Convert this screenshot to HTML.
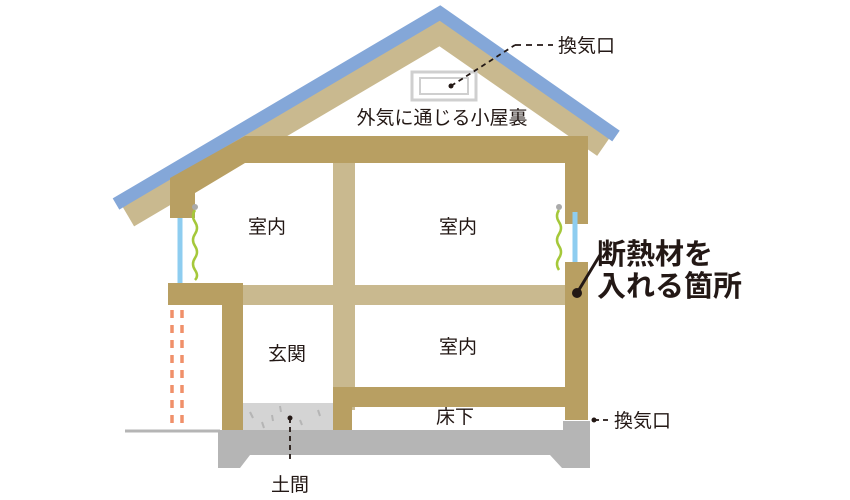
<!DOCTYPE html>
<html><head><meta charset="utf-8"><style>
html,body{margin:0;padding:0;background:#fff;}
svg{display:block;}
text{font-family:"Liberation Sans","Noto Sans CJK JP",sans-serif;fill:#231815;}
</style></head><body>
<svg width="850" height="500" viewBox="0 0 850 500">
<!-- roof tan band -->
<polyline points="128,216 440,32 604,146" fill="none" stroke="#c9b98f" stroke-width="24" stroke-linejoin="miter"/>
<!-- roof blue -->
<polyline points="116,204 440,13 616,136" fill="none" stroke="#84a7d8" stroke-width="13" stroke-linejoin="miter"/>
<!-- vent box -->
<rect x="412" y="72" width="64" height="28" fill="none" stroke="#cfcfcf" stroke-width="3"/>
<rect x="420" y="78" width="48" height="16" fill="none" stroke="#cfcfcf" stroke-width="2"/>
<line x1="451" y1="86" x2="515" y2="45" stroke="#231815" stroke-width="1.8" stroke-dasharray="5,4"/>
<line x1="515" y1="45" x2="553" y2="45" stroke="#231815" stroke-width="1.8" stroke-dasharray="6,5"/>
<circle cx="451" cy="86" r="2.5" fill="#231815"/>
<rect x="333" y="160" width="22" height="250" fill="#c9b98f"/>
<rect x="240" y="285" width="328" height="20" fill="#c9b98f"/>
<polygon points="170,178 245,136 587,136 587,163 245,163 195,193 170,193" fill="#b89f62"/>
<rect x="170" y="178" width="25" height="40" fill="#b89f62"/>
<rect x="565" y="136" width="23" height="88" fill="#b89f62"/>
<rect x="168" y="283" width="75" height="22" fill="#b89f62"/>
<rect x="222" y="283" width="21" height="148" fill="#b89f62"/>
<rect x="565" y="262" width="23" height="158" fill="#b89f62"/>
<rect x="333" y="387" width="232" height="20" fill="#b89f62"/>
<rect x="333" y="387" width="19" height="43" fill="#b89f62"/>
<rect x="243" y="403" width="90" height="28" fill="#d4d4d4"/>
<g stroke="#b5b5b5" stroke-width="2"><line x1="250" y1="412" x2="253" y2="418"/><line x1="262" y1="422" x2="264" y2="428"/><line x1="280" y1="406" x2="281" y2="412"/><line x1="300" y1="420" x2="302" y2="425"/><line x1="318" y1="410" x2="320" y2="416"/><line x1="272" y1="415" x2="273" y2="421"/></g>
<polygon points="218,430 590,430 590,468 562,468 550,455 250,455 240,468 218,468" fill="#b5b5b5"/>
<rect x="563" y="421" width="27" height="12" fill="#b5b5b5"/>
<line x1="125" y1="431" x2="220" y2="431" stroke="#b5b5b5" stroke-width="3"/>
<line x1="180" y1="218" x2="180" y2="283" stroke="#8ecdf0" stroke-width="5"/>
<line x1="575" y1="212" x2="575" y2="262" stroke="#8ecdf0" stroke-width="5"/>
<path d="M195,210 q-4,6 0,12 q4,6 0,12 q-4,6 0,12 q4,6 0,12 q-4,6 0,12 q4,6 0,10" fill="none" stroke="#a5c83a" stroke-width="2.5"/>
<path d="M559,210 q-4,6 0,12 q4,6 0,12 q-4,6 0,12 q4,6 0,12 q-4,6 0,12" fill="none" stroke="#a5c83a" stroke-width="2.5"/>
<circle cx="195" cy="207" r="3" fill="#aaa"/><circle cx="559" cy="207" r="3" fill="#aaa"/>
<line x1="172" y1="310" x2="172" y2="426" stroke="#f0906a" stroke-width="3.5" stroke-dasharray="8,7"/>
<line x1="182" y1="310" x2="182" y2="426" stroke="#f0906a" stroke-width="3.5" stroke-dasharray="8,7"/>
<line x1="577" y1="293" x2="600" y2="255" stroke="#231815" stroke-width="3"/>
<circle cx="577" cy="293" r="5" fill="#231815"/>
<line x1="290" y1="418" x2="290" y2="462" stroke="#231815" stroke-width="1.8" stroke-dasharray="5,4"/>
<circle cx="290" cy="418" r="2.5" fill="#231815"/>
<line x1="594" y1="420" x2="612" y2="420" stroke="#231815" stroke-width="1.8" stroke-dasharray="5,4"/>
<circle cx="594" cy="420" r="2.5" fill="#231815"/>
<text x="558" y="52" font-size="19">換気口</text>
<text x="442" y="124" font-size="19" text-anchor="middle">外気に通じる小屋裏</text>
<text x="267" y="233" font-size="19" text-anchor="middle">室内</text>
<text x="458" y="233" font-size="19" text-anchor="middle">室内</text>
<text x="458" y="353" font-size="19" text-anchor="middle">室内</text>
<text x="287" y="360" font-size="19" text-anchor="middle">玄関</text>
<text x="455" y="423" font-size="19" text-anchor="middle">床下</text>
<text x="290" y="491" font-size="19" text-anchor="middle">土間</text>
<text x="614" y="427" font-size="19">換気口</text>
<text x="597" y="264" font-size="29" font-weight="bold">断熱材を</text>
<text x="597" y="296" font-size="29" font-weight="bold">入れる箇所</text>
</svg>
</body></html>
